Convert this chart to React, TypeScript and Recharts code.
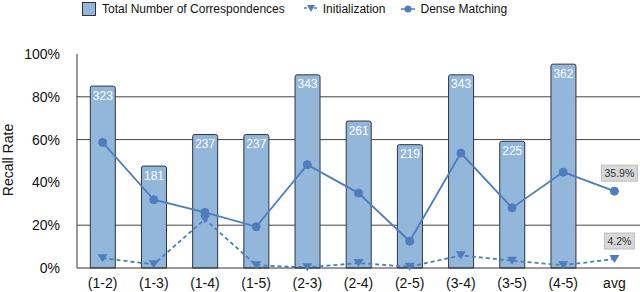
import React from "react";
import {
  ComposedChart,
  Bar,
  Line,
  XAxis,
  YAxis,
  CartesianGrid,
  Legend,
  LabelList
} from "recharts";

if (typeof document !== "undefined") document.body.style.margin = "0";

const categories = ["(1-2)", "(1-3)", "(1-4)", "(1-5)", "(2-3)", "(2-4)", "(2-5)", "(3-4)", "(3-5)", "(4-5)", "avg"];
const correspondences = [323, 181, 237, 237, 343, 261, 219, 343, 225, 362, null];
const initialization = [4.6, 1.7, 22.8, 1.3, 0.3, 2.3, 0.6, 5.9, 3.4, 1.3, 4.2];
const denseMatching = [58.7, 31.9, 26.0, 19.3, 48.3, 35.0, 12.5, 53.7, 28.1, 44.8, 35.9];
const yTicks = [0, 20, 40, 60, 80, 100];

const data = categories.map((name, i) => ({
  name,
  Correspondences: correspondences[i],
  Initialization: initialization[i],
  Dense: denseMatching[i]
}));

const FONT = "'Liberation Sans', Arial, Helvetica, sans-serif";
const BAR = "#93b6db";
const LINE = "#4d7dbd";
const last = categories.length - 1;

const Triangle = (props: any) => {
  const { cx, cy } = props;
  if (cx == null || cy == null) return null;
  return <path d={`M${cx - 5},${cy - 4} L${cx + 5},${cy - 4} L${cx},${cy + 4} Z`} fill={LINE} />;
};

const avgLabel = (props: any) => {
  const { x, y, index, value } = props;
  if (index !== last) return null;
  const text = `${Number(value).toFixed(1)}%`;
  const w = text.length * 6 + 6;
  return (
    <g>
      <rect x={x + 5 - w / 2} y={y - 26} width={w} height={16} fill="#d8d8d8" stroke="#bdbdbd" />
      <text x={x + 5} y={y - 14} textAnchor="middle" fontSize={10.5} fill="#333" fontFamily={FONT}>
        {text}
      </text>
    </g>
  );
};

const yLabel = (props: any) => {
  const { viewBox } = props;
  const cy = viewBox.y + viewBox.height / 2 - 1;
  return (
    <text x={8} y={cy} transform={`rotate(-90 8 ${cy})`} textAnchor="middle" dominantBaseline="central" fontSize={14} fill="#111" fontFamily={FONT}>
      Recall Rate
    </text>
  );
};

const renderLegend = () => (
  <div style={{ display: "flex", alignItems: "center", paddingLeft: 82, fontFamily: FONT, fontSize: 12, color: "#111", height: 18 }}>
    <svg width={15} height={15} style={{ marginRight: 5 }}>
      <rect x={0.5} y={0.5} width={13} height={13} fill={BAR} stroke="#333" />
    </svg>
    <span style={{ marginRight: 19 }}>Total Number of Correspondences</span>
    <svg width={14} height={10} style={{ marginRight: 5 }}>
      <line x1={0} y1={4} x2={14} y2={4} stroke={LINE} strokeWidth={1.5} strokeDasharray="3 2" />
      <path d="M3,1 L11,1 L7,8 Z" fill={LINE} />
    </svg>
    <span style={{ marginRight: 16 }}>Initialization</span>
    <svg width={14} height={10} style={{ marginRight: 5 }}>
      <line x1={0} y1={5} x2={14} y2={5} stroke={LINE} strokeWidth={1.5} />
      <circle cx={7} cy={5} r={3.5} fill={LINE} />
    </svg>
    <span>Dense Matching</span>
  </div>
);

export default function App() {
  return (
    <ComposedChart width={640} height={292} data={data} margin={{ top: 36, right: 0, bottom: 0, left: 0 }} barCategoryGap="26%">
      <CartesianGrid vertical={false} horizontalValues={[20, 60, 80]} stroke="#444" yAxisId="pct" />
      <XAxis
        dataKey="name"
        height={24}
        tickLine={false}
        axisLine={{ stroke: "#333" }}
        tick={{ fontSize: 14, fill: "#111", fontFamily: FONT }}
        tickMargin={4}
        interval={0}
      />
      <YAxis
        yAxisId="pct"
        domain={[0, 100]}
        ticks={yTicks}
        width={77}
        tickLine={false}
        axisLine={{ stroke: "#333" }}
        tickFormatter={(v: number) => `${v}%`}
        tick={{ fontSize: 14, fill: "#111", fontFamily: FONT }}
        tickMargin={11}
        label={yLabel}
      />
      <YAxis yAxisId="count" orientation="right" domain={[0, 380]} hide />
      <Legend verticalAlign="top" content={renderLegend} wrapperStyle={{ top: 0, left: 0, width: 640 }} />
      <Bar yAxisId="count" dataKey="Correspondences" fill={BAR} stroke="#2e3640" strokeWidth={1} radius={[2, 2, 0, 0]} isAnimationActive={false}>
        <LabelList dataKey="Correspondences" position="insideTop" offset={5} fill="#fff" fontSize={12} fontFamily={FONT} />
      </Bar>
      <Line
        yAxisId="pct"
        dataKey="Initialization"
        stroke={LINE}
        strokeWidth={1.8}
        strokeDasharray="4 3"
        dot={<Triangle />}
        activeDot={false}
        isAnimationActive={false}
      >
        <LabelList dataKey="Initialization" content={avgLabel} />
      </Line>
      <Line
        yAxisId="pct"
        dataKey="Dense"
        stroke={LINE}
        strokeWidth={1.8}
        dot={{ r: 4, fill: LINE, stroke: LINE, strokeWidth: 1 }}
        activeDot={false}
        isAnimationActive={false}
      >
        <LabelList dataKey="Dense" content={avgLabel} />
      </Line>
    </ComposedChart>
  );
}
